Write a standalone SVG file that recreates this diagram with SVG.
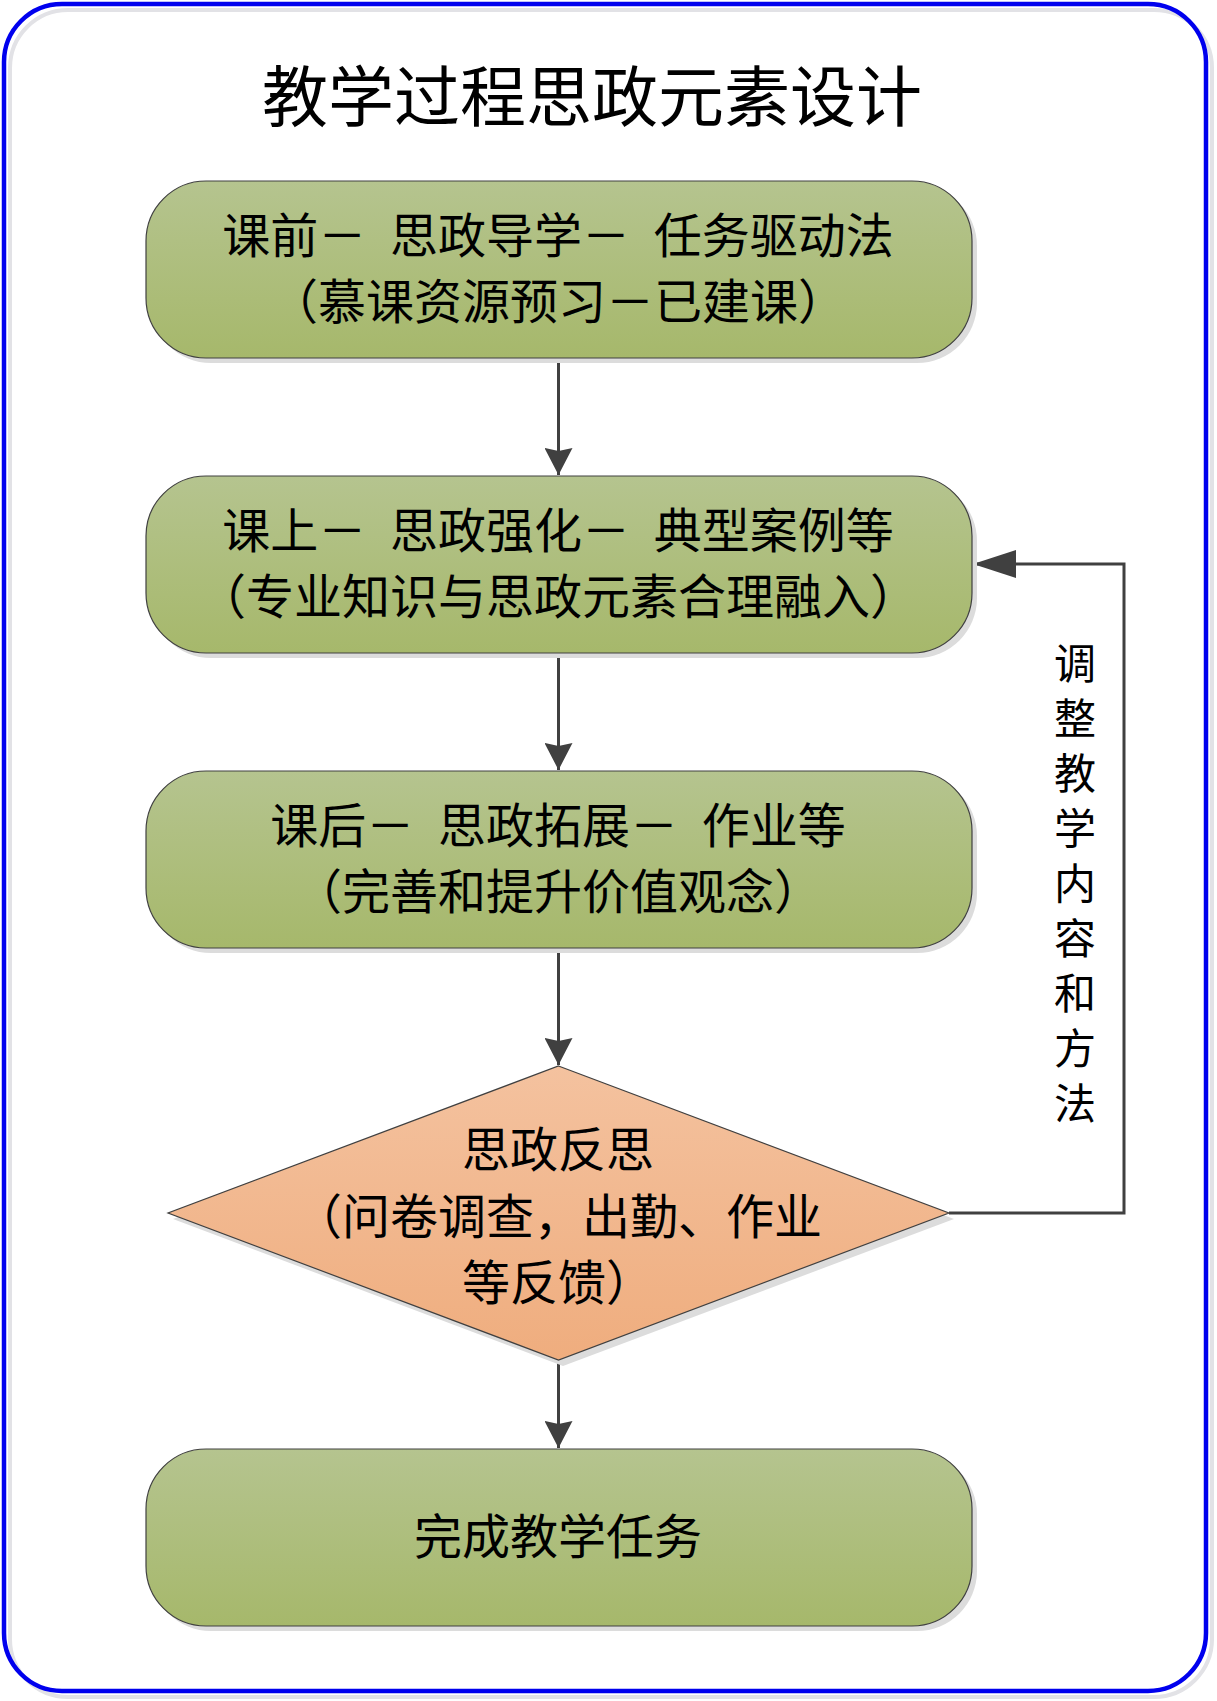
<svg xmlns="http://www.w3.org/2000/svg" width="1217" height="1701" viewBox="0 0 1217 1701">
  <defs>
    <linearGradient id="gGreen" x1="0" y1="0" x2="0" y2="1">
      <stop offset="0" stop-color="#b5c48f"/>
      <stop offset="1" stop-color="#a6b86b"/>
    </linearGradient>
    <linearGradient id="gOrange" x1="0" y1="0" x2="0" y2="1">
      <stop offset="0" stop-color="#f4c29f"/>
      <stop offset="1" stop-color="#efad7e"/>
    </linearGradient>
    <marker id="arrV" viewBox="0 0 28 28" refX="27" refY="14" markerWidth="28" markerHeight="28" markerUnits="userSpaceOnUse" orient="auto">
      <path d="M0,0 L27,14 L0,28 L3,14 Z" fill="#404040"/>
    </marker>
    <marker id="arrH" viewBox="0 0 43 28" refX="43" refY="14" markerWidth="43" markerHeight="28" markerUnits="userSpaceOnUse" orient="auto">
      <path d="M0,0 L43,14 L0,28 Z" fill="#404040"/>
    </marker>
  </defs>
  <style>
    .t { font-family: "Noto Sans CJK SC", "Noto Sans", sans-serif; fill: #000; text-anchor: middle; }
    .ws { word-spacing: 13px; }
    .box { fill: url(#gGreen); stroke: #404040; stroke-width: 1.2; }
    .shadow { fill: #dcdcdc; }
    .conn { fill: none; stroke: #404040; stroke-width: 3; }
  </style>
  <rect width="1217" height="1701" fill="#ffffff"/>

  <g id="frame">
    <rect x="10" y="10" width="1202" height="1687" rx="58" ry="58" fill="none" stroke="#e2e2e6" stroke-width="4"/>
    <rect x="4" y="4" width="1202" height="1687" rx="58" ry="58" fill="none" stroke="#0000ee" stroke-width="4.5"/>
  </g>

  <g id="title">
    <text class="t" x="592" y="121" font-size="66">教学过程思政元素设计</text>
  </g>

  <g id="connectors">
    <line class="conn" x1="558.5" y1="358" x2="558.5" y2="475" marker-end="url(#arrV)"/>
    <line class="conn" x1="558.5" y1="653" x2="558.5" y2="770" marker-end="url(#arrV)"/>
    <line class="conn" x1="558.5" y1="948" x2="558.5" y2="1065" marker-end="url(#arrV)"/>
    <line class="conn" x1="558.5" y1="1360" x2="558.5" y2="1448" marker-end="url(#arrV)"/>
    <path class="conn" d="M949,1213 H1124 V564 H973" marker-end="url(#arrH)"/>
    <g id="feedback-label">
      <text class="t" x="1075" y="679" font-size="42">调</text>
      <text class="t" x="1075" y="734" font-size="42">整</text>
      <text class="t" x="1075" y="789" font-size="42">教</text>
      <text class="t" x="1075" y="844" font-size="42">学</text>
      <text class="t" x="1075" y="899" font-size="42">内</text>
      <text class="t" x="1075" y="954" font-size="42">容</text>
      <text class="t" x="1075" y="1009" font-size="42">和</text>
      <text class="t" x="1075" y="1064" font-size="42">方</text>
      <text class="t" x="1075" y="1119" font-size="42">法</text>
    </g>
  </g>

  <g id="node-pre">
    <rect class="shadow" x="151" y="186" width="826" height="177" rx="60" ry="60"/>
    <rect class="box" x="146" y="181" width="826" height="177" rx="60" ry="60"/>
    <text class="t ws" x="558" y="253" font-size="48">课前－ 思政导学－ 任务驱动法</text>
    <text class="t" x="558" y="319" font-size="48">（慕课资源预习－已建课）</text>
  </g>

  <g id="node-in">
    <rect class="shadow" x="151" y="481" width="826" height="177" rx="60" ry="60"/>
    <rect class="box" x="146" y="476" width="826" height="177" rx="60" ry="60"/>
    <text class="t ws" x="558" y="548" font-size="48">课上－ 思政强化－ 典型案例等</text>
    <text class="t" x="558" y="614" font-size="48">（专业知识与思政元素合理融入）</text>
  </g>

  <g id="node-post">
    <rect class="shadow" x="151" y="776" width="826" height="177" rx="60" ry="60"/>
    <rect class="box" x="146" y="771" width="826" height="177" rx="60" ry="60"/>
    <text class="t ws" x="558" y="843" font-size="48">课后－ 思政拓展－ 作业等</text>
    <text class="t" x="558" y="909" font-size="48">（完善和提升价值观念）</text>
  </g>

  <g id="node-reflect">
    <polygon class="shadow" points="563,1072 954,1219 563,1366 173,1219"/>
    <polygon points="558.5,1066 949,1213 558.5,1360 168,1213" fill="url(#gOrange)" stroke="#404040" stroke-width="1.2"/>
    <text class="t" x="558" y="1167" font-size="48">思政反思</text>
    <text class="t" x="558" y="1234" font-size="48">（问卷调查，出勤、作业</text>
    <text class="t" x="558" y="1300" font-size="48">等反馈）</text>
  </g>

  <g id="node-done">
    <rect class="shadow" x="151" y="1454" width="826" height="177" rx="60" ry="60"/>
    <rect class="box" x="146" y="1449" width="826" height="177" rx="60" ry="60"/>
    <text class="t" x="558" y="1554" font-size="48">完成教学任务</text>
  </g>
</svg>
